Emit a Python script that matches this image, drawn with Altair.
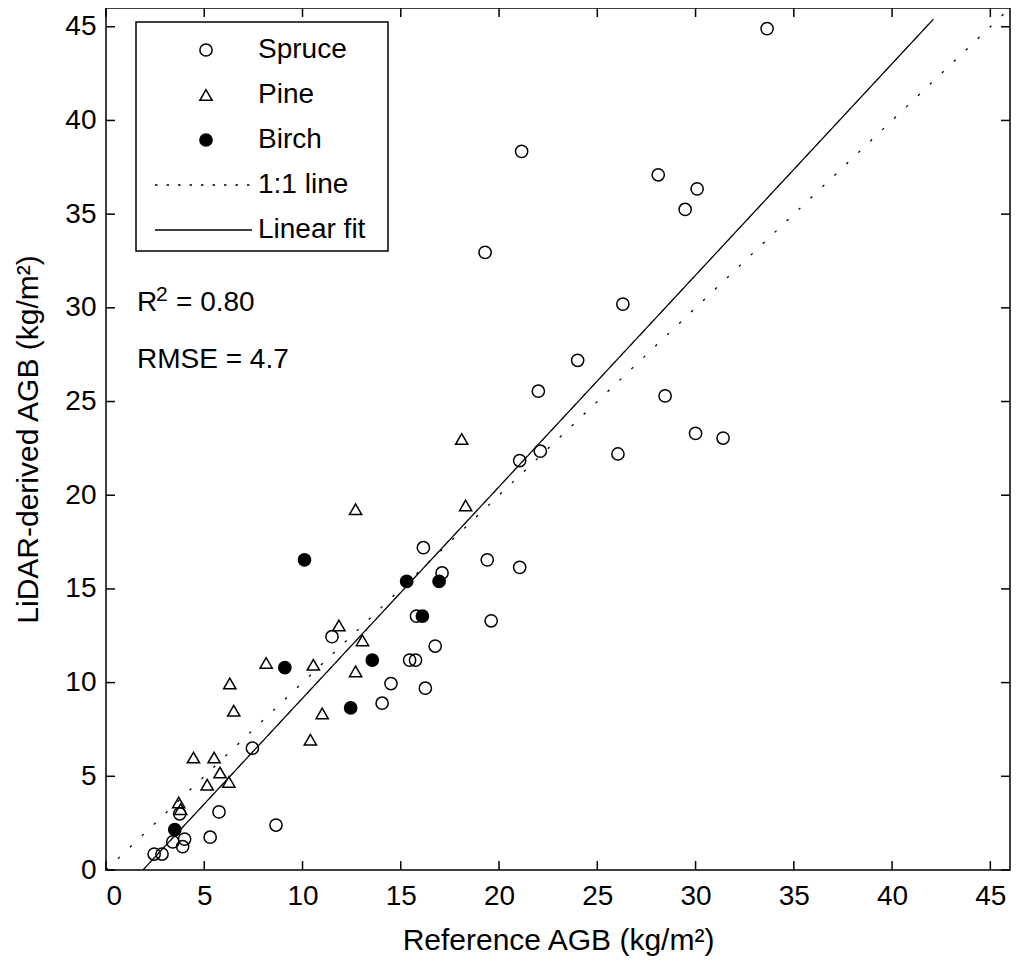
import altair as alt
import pandas as pd

FONT = "Liberation Sans, Arial, Helvetica, sans-serif"

# ---- data ----
spruce_x = [33.64, 21.15, 28.1, 30.08, 29.47, 19.29, 26.3, 24.0, 22.0, 28.45, 30.0, 31.4,
            22.1, 21.05, 26.05, 16.15, 19.4, 21.05, 17.1, 15.8, 19.6, 11.5, 16.75, 15.45,
            15.75, 14.5, 16.25, 14.05, 7.45, 5.75, 3.75, 8.65, 5.3, 4.0, 3.9, 3.4, 2.45, 2.85]
spruce_y = [44.9, 38.35, 37.1, 36.35, 35.25, 32.96, 30.2, 27.2, 25.55, 25.3, 23.3, 23.05,
            22.35, 21.85, 22.2, 17.2, 16.55, 16.15, 15.85, 13.55, 13.3, 12.45, 11.95, 11.2,
            11.2, 9.95, 9.7, 8.9, 6.5, 3.1, 3.0, 2.4, 1.75, 1.65, 1.25, 1.5, 0.85, 0.85]

pine_x = [18.1, 12.7, 18.3, 11.85, 13.05, 8.15, 10.55, 12.7, 6.3, 6.5, 11.0, 10.4,
          4.45, 5.5, 5.8, 5.15, 6.25, 3.7, 3.8]
pine_y = [23.0, 19.25, 19.45, 13.05, 12.25, 11.05, 10.95, 10.6, 9.95, 8.5, 8.35, 6.95,
          6.0, 6.0, 5.2, 4.55, 4.7, 3.6, 3.25]

birch_x = [10.1, 15.3, 16.95, 16.1, 13.55, 9.1, 12.45, 3.5]
birch_y = [16.55, 15.4, 15.4, 13.55, 11.2, 10.8, 8.65, 2.15]

kinds = ["Spruce", "Pine", "Birch", "1:1 line", "Linear fit"]

one_x = [0.0, 46.0]
one_y = [0.0, 46.0]
fit_x = [1.88, 42.1]
fit_y = [0.0, 45.4]

tick_values = [0, 5, 10, 15, 20, 25, 30, 35, 40, 45]
axis_domain = [0, 46]

r2_parts = ["R", "2", "= 0.80"]
rmse_text = "RMSE = 4.7"
x_title = "Reference AGB (kg/m\u00b2)"
y_title = "LiDAR-derived AGB (kg/m\u00b2)"

# ---- tables ----
pts = pd.concat([
    pd.DataFrame({"x": spruce_x, "y": spruce_y, "kind": "Spruce"}),
    pd.DataFrame({"x": pine_x, "y": pine_y, "kind": "Pine"}),
    pd.DataFrame({"x": birch_x, "y": birch_y, "kind": "Birch"}),
], ignore_index=True)

lines = pd.concat([
    pd.DataFrame({"x": one_x, "y": one_y, "kind": "1:1 line"}),
    pd.DataFrame({"x": fit_x, "y": fit_y, "kind": "Linear fit"}),
], ignore_index=True)

ticks = pd.DataFrame({"v": tick_values})

# ---- layout / style ----
W, H = 904, 862
TL = 9
PT_SIZE = 150
DOT_DASH = [2.5, 14]

xs = alt.Scale(domain=axis_domain, nice=False, zero=False)
ys = alt.Scale(domain=axis_domain, nice=False, zero=False)

x_axis = alt.Axis(title=x_title, values=tick_values, format="d", labelPadding=12,
                  titlePadding=15)
y_axis = alt.Axis(title=y_title, values=tick_values, format="d", labelPadding=10,
                  titlePadding=21)

shape_scale = alt.Scale(domain=kinds[:3], range=["circle", "triangle-up", "circle"])
fill_scale = alt.Scale(domain=kinds[:3], range=["transparent", "transparent", "black"])
dash_scale = alt.Scale(domain=kinds[3:], range=[DOT_DASH, [1, 0]])
legend_dash_scale = alt.Scale(domain=kinds[3:], range=[[2.5, 9], [1, 0]])

line_layer = alt.Chart(lines).mark_line(color="black", strokeWidth=1.3, clip=True).encode(
    x=alt.X("x:Q", scale=xs, axis=x_axis),
    y=alt.Y("y:Q", scale=ys, axis=y_axis),
    strokeDash=alt.StrokeDash("kind:N", scale=dash_scale, legend=None),
    strokeWidth=alt.StrokeWidth("kind:N", scale=alt.Scale(domain=kinds[3:], range=[2.2, 1.3]),
                                legend=None),
)

point_layer = alt.Chart(pts).mark_point(filled=True, stroke="black", strokeWidth=1.5,
                                        size=PT_SIZE, opacity=1).encode(
    x=alt.X("x:Q", scale=xs, axis=x_axis),
    y=alt.Y("y:Q", scale=ys, axis=y_axis),
    shape=alt.Shape("kind:N", scale=shape_scale, legend=None),
    fill=alt.Fill("kind:N", scale=fill_scale, legend=None),
)

tick_mark = dict(color="black", strokeWidth=1.5)
bottom_ticks = alt.Chart(ticks).mark_rule(**tick_mark).encode(
    x=alt.X("v:Q", scale=xs, axis=x_axis), y=alt.value(H), y2=alt.value(H - TL))
top_ticks = alt.Chart(ticks).mark_rule(**tick_mark).encode(
    x=alt.X("v:Q", scale=xs, axis=x_axis), y=alt.value(0), y2=alt.value(TL))
left_ticks = alt.Chart(ticks).mark_rule(**tick_mark).encode(
    y=alt.Y("v:Q", scale=ys, axis=y_axis), x=alt.value(0), x2=alt.value(TL))
right_ticks = alt.Chart(ticks).mark_rule(**tick_mark).encode(
    y=alt.Y("v:Q", scale=ys, axis=y_axis), x=alt.value(W), x2=alt.value(W - TL))


def text_layer(t, x, y, size=28, baseline="middle", align="left"):
    return alt.Chart(pd.DataFrame({"t": [t]})).mark_text(
        align=align, baseline=baseline, font=FONT, fontSize=size, color="black").encode(
        text="t:N", x=alt.value(x), y=alt.value(y))


ann_layers = [
    text_layer(r2_parts[0], 31, 295),
    text_layer(r2_parts[1], 50, 287, size=21),
    text_layer(r2_parts[2], 70, 295),
    text_layer(rmse_text, 31, 352),
]

# ---- hand-drawn legend box (MATLAB style) ----
LEG_L, LEG_R, LEG_T, LEG_B = 30, 282, 14, 243
ROW0, ROW_STEP = 42, 45
SYM_X, LINE_L, LINE_R, LAB_X = 100, 49, 146, 152

legend_layers = [
    alt.Chart(pd.DataFrame({"k": [0]})).mark_rect(fill="white", stroke="black", strokeWidth=1.5).encode(
        x=alt.value(LEG_L), x2=alt.value(LEG_R), y=alt.value(LEG_T), y2=alt.value(LEG_B))
]
for i, k in enumerate(kinds):
    ry = ROW0 + ROW_STEP * i
    one = pd.DataFrame({"kind": [k]})
    if i < 3:
        legend_layers.append(
            alt.Chart(one).mark_point(filled=True, stroke="black", strokeWidth=1.5,
                                      size=PT_SIZE, opacity=1).encode(
                x=alt.value(SYM_X), y=alt.value(ry),
                shape=alt.Shape("kind:N", scale=shape_scale, legend=None),
                fill=alt.Fill("kind:N", scale=fill_scale, legend=None)))
    else:
        legend_layers.append(
            alt.Chart(one).mark_rule(color="black", strokeWidth=1.6).encode(
                x=alt.value(LINE_L), x2=alt.value(LINE_R), y=alt.value(ry),
                strokeDash=alt.StrokeDash("kind:N", scale=legend_dash_scale, legend=None)))
    legend_layers.append(text_layer(k, LAB_X, ry))

chart = alt.layer(
    line_layer, point_layer, bottom_ticks, top_ticks, left_ticks, right_ticks,
    *ann_layers, *legend_layers
).resolve_scale(
    strokeDash="independent"
).properties(
    width=W, height=H,
    background="white",
    autosize=alt.AutoSizeParams(type="none"),
    padding={"left": 98, "top": 0, "right": 6, "bottom": 100},
).configure_view(
    stroke="black", strokeWidth=1.5
).configure_axis(
    grid=False, ticks=False, domain=False,
    labelFont=FONT, labelFontSize=28, labelColor="black",
    titleFont=FONT, titleFontSize=30, titleFontWeight="normal", titleColor="black",
)

chart.save("out.html", embed_options={"renderer": "svg", "actions": False})
